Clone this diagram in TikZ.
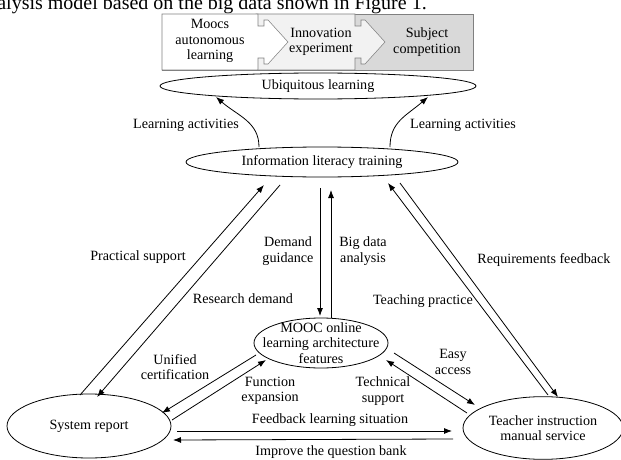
\documentclass[tikz,border=0pt]{standalone}
\usepackage{fontspec}
\setmainfont{Liberation Serif}
\usetikzlibrary{calc, arrows.meta}
\definecolor{boxline}{HTML}{808080}
\definecolor{stepgray}{HTML}{F2F2F2}
\definecolor{stepdark}{HTML}{D9D9D9}
\tikzset{
  txt/.style = {align=center, inner sep=1pt},
  link/.style = {line width=0.6pt, -{Latex[length=6pt,width=4.5pt]}},
  bubble/.style = {line width=0.6pt},
}

\begin{document}
\begin{tikzpicture}[x=0.75pt, y=-0.75pt, font=\fontsize{10.6}{11.6}\selectfont]
  \useasboundingbox (0,0) rectangle (621,460);
  \clip (0,0) rectangle (621,460);

  % running text above, cut by the page
  \node[anchor=base east, inner sep=0pt, font=\fontsize{15}{18}\selectfont] (capt) at (427,10) {analysis model based on the big data shown in Figure 1.};

  % three steps bar
  \filldraw[draw=boxline, fill=stepdark] (162,14) rectangle (473,70);
  \filldraw[draw=boxline, fill=stepgray] (256,14) -- (355,14) -- (355,26) -- (361,26) -- (361,20) -- (365,20) -- (385,42) -- (365,64) -- (361,64) -- (361,58) -- (355,58) -- (355,70) -- (256,70) -- cycle;
  \filldraw[draw=boxline, fill=white] (162,14) -- (258,14) -- (258,26) -- (264,26) -- (264,20) -- (268,20) -- (288,42) -- (268,64) -- (264,64) -- (264,58) -- (258,58) -- (258,70) -- (162,70) -- cycle;
  \node[txt] (moocs) at (210,41) {Moocs\\autonomous\\learning};
  \node[txt] (innov) at (321,42) {Innovation\\experiment};
  \node[txt] (subj) at (427,42) {Subject\\competition};

  % ellipses
  \node[txt] (ubiq) at (318,86) {Ubiquitous learning};
  \draw[bubble] (ubiq.center) ellipse [x radius=118.5pt, y radius=9.75pt];
  \node[txt] (info) at (322,162) {Information literacy training};
  \draw[bubble] (info.center) ellipse [x radius=102pt, y radius=11.25pt];
  \node[txt] (mooc) at (321,343) {MOOC online\\learning architecture\\features};
  \draw[bubble] (mooc.center) ellipse [x radius=50.25pt, y radius=18.75pt];
  \node[txt] (sys) at (89,426) {System report};
  \draw[bubble] (sys.center) ellipse [x radius=61.5pt, y radius=24pt];
  \node[txt] (teach) at (543,428) {Teacher instruction\\manual service};
  \draw[bubble] (teach.center) ellipse [x radius=60pt, y radius=23.5pt];

  % learning activities
  \draw[link] ($(info)+(-63,-15)$) .. controls ($(info)+(-63,-40)$) and ($(ubiq)+(-80,30)$) .. ($(ubiq)+(-102,11)$);
  \draw[link] ($(info)+(68,-15)$) .. controls ($(info)+(68,-40)$) and ($(ubiq)+(88,30)$) .. ($(ubiq)+(110,11)$);
  \node[txt] (la1) at (186,125) {Learning activities};
  \node[txt] (la2) at (463,125) {Learning activities};

  % system report -- information literacy
  \draw[link] ($(sys)+(-9,-31)$) -- ($(info)+(-58,23)$);
  \draw[link] ($(info)+(-42,23)$) -- ($(sys)+(8,-29)$);
  \node[txt] (prac) at (138,257) {Practical support};
  \node[txt] (resd) at (243,299) {Research demand};

  % information literacy -- mooc
  \draw[link] ($(info)+(-2,26)$) -- ($(mooc)+(-1,-27)$);
  \draw[link] ($(mooc)+(10,-25)$) -- ($(info)+(9,28)$);
  \node[txt] (dem) at (288,251) {Demand\\guidance};
  \node[txt] (big) at (363,251) {Big data\\analysis};

  % teacher -- information literacy
  \draw[link] ($(teach)+(5,-33)$) -- ($(info)+(66,21)$);
  \draw[link] ($(info)+(78,21)$) -- ($(teach)+(15,-31)$);
  \node[txt] (reqf) at (544,260) {Requirements feedback};
  \node[txt] (tprac) at (423,301) {Teaching practice};

  % mooc -- system report
  \draw[link] ($(mooc)+(-65,12)$) -- ($(sys)+(73,-13)$);
  \draw[link] ($(sys)+(83,-6)$) -- ($(mooc)+(-55,17)$);
  \node[txt] (unif) at (175,367) {Unified\\certification};
  \node[txt] (func) at (270,391) {Function\\expansion};

  % mooc -- teacher
  \draw[link] ($(mooc)+(73,10)$) -- ($(teach)+(-68,-23)$);
  \draw[link] ($(teach)+(-76,-15)$) -- ($(mooc)+(65,17)$);
  \node[txt] (easy) at (453,362) {Easy\\access};
  \node[txt] (tech) at (383,391) {Technical\\support};

  % system report -- teacher
  \draw[link] ($(sys)+(88,5)$) -- ($(teach)+(-91,3)$);
  \draw[link] ($(teach)+(-90,11)$) -- ($(sys)+(84,14)$);
  \node[txt] (feed) at (330,420) {Feedback learning situation};
  \node[txt] (impr) at (331,452) {Improve the question bank};
\end{tikzpicture}
\end{document}
